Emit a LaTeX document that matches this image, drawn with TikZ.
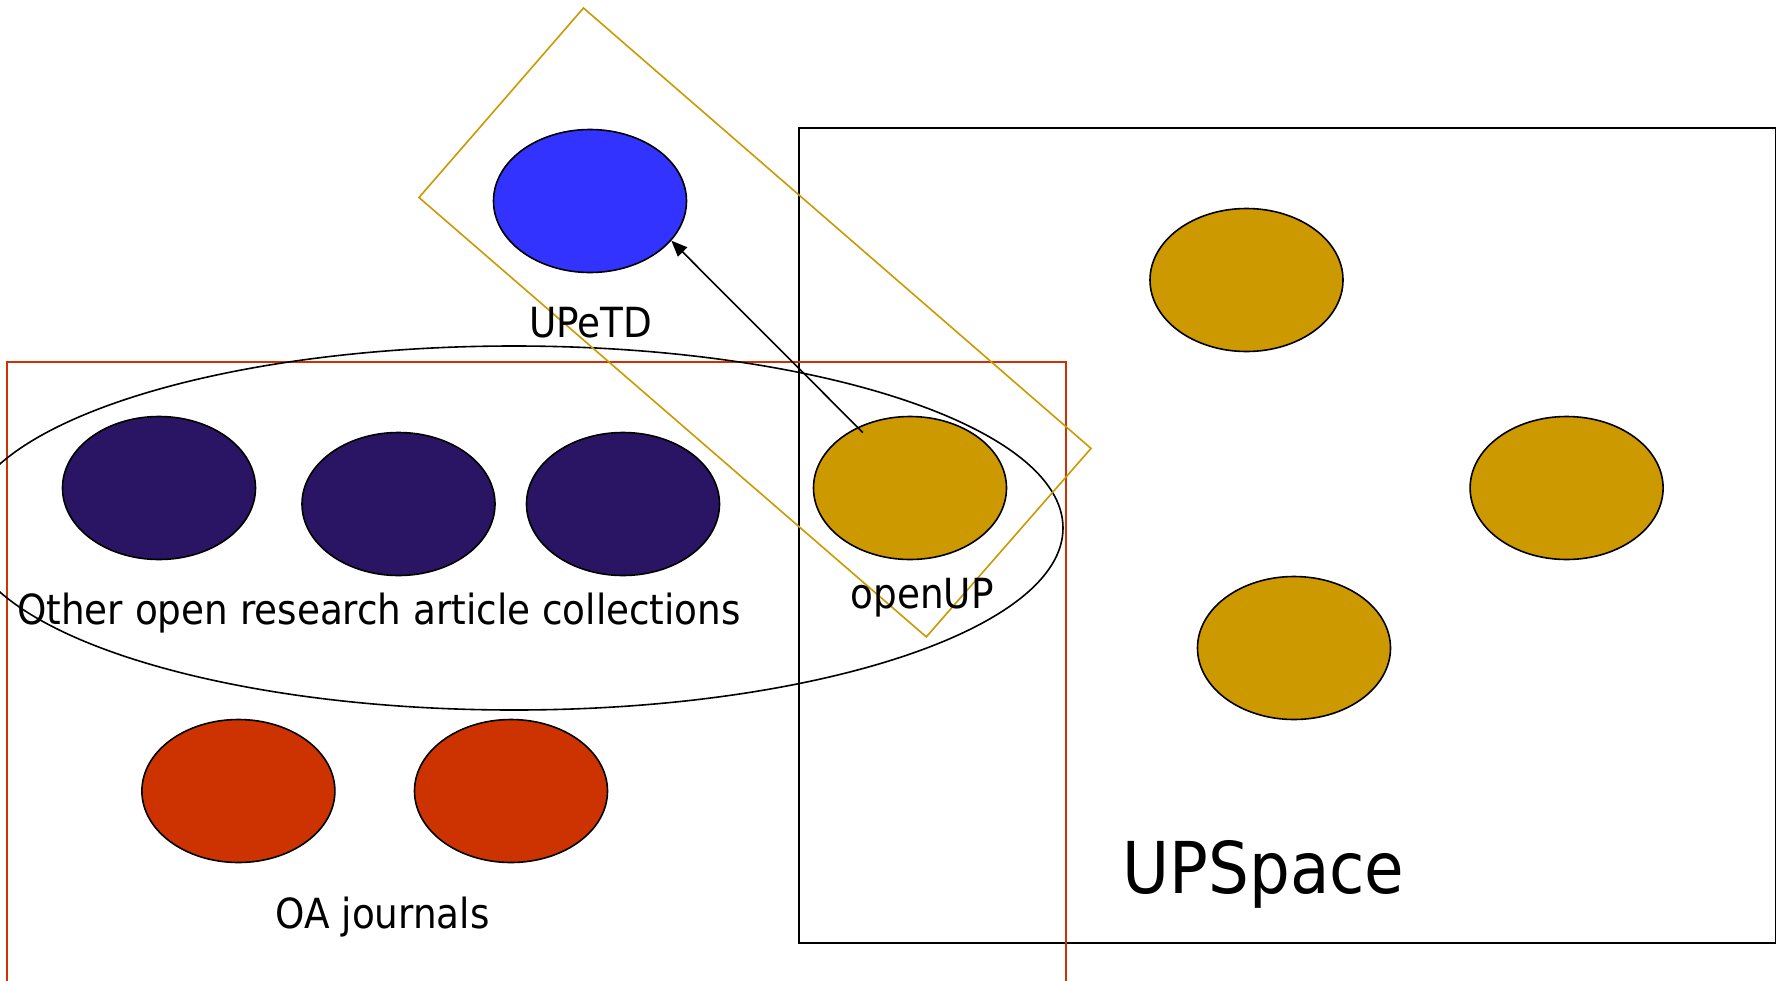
\documentclass[tikz,border=0pt]{standalone}
\usepackage{fontspec}
\setmainfont{DejaVu Sans Condensed}
\usetikzlibrary{shapes.geometric,arrows.meta}
\definecolor{cblue}{HTML}{3333FF}
\definecolor{cpurple}{HTML}{2A1464}
\definecolor{cgold}{HTML}{CC9900}
\definecolor{cred}{HTML}{CC3300}
\begin{document}
\begin{tikzpicture}[x=1pt,y=-1pt,
  blob/.style={ellipse, draw=black, line width=1.6pt, minimum width=193pt, minimum height=143pt, inner sep=0pt},
  lbl/.style={font=\fontsize{41.5}{48}\selectfont, inner sep=0pt, text=black},
  biglbl/.style={font=\fontsize{71.5}{84}\selectfont, inner sep=0pt, text=black},
  frame/.style={line width=1.6pt},
  ]
\useasboundingbox[fill=white] (0,0) rectangle (1780,980);
% containers
\draw[frame, draw=black] (799,128) rectangle (1775.5,943);
\draw[frame, draw=cred] (7,362) rectangle (1066,990);
\draw[frame, draw=black] (514,528) ellipse [x radius=549pt, y radius=182pt];
\draw[frame, draw=cgold, line join=miter] (583.5,8) -- (1091,448.4) -- (926.3,636.9) -- (419,197.5) -- cycle;
% blobs
\node[blob, fill=cblue] (upetd) at (590,201) {};
\node[blob, fill=cpurple] (p1) at (159,488) {};
\node[blob, fill=cpurple] (p2) at (398.5,504) {};
\node[blob, fill=cpurple] (p3) at (623,504) {};
\node[blob, fill=cgold] (openup) at (910,488) {};
\node[blob, fill=cgold] (g1) at (1246.5,280) {};
\node[blob, fill=cgold] (g2) at (1566.6,488) {};
\node[blob, fill=cgold] (g3) at (1294,648) {};
\node[blob, fill=cred] (r1) at (238.4,791) {};
\node[blob, fill=cred] (r2) at (511,791) {};
% labels
\node[lbl] (tupetd) at (591,323) {UPeTD};
\node[lbl] (tother) at (379,613.5) {Other open research article collections};
\node[lbl] (topenup) at (922,597.5) {openUP};
\node[lbl] (toa) at (382.6,917.5) {OA journals};
\node[biglbl] (tupspace) at (1263.5,874) {UPSpace};
% arrow
\coordinate (astart) at (862.8,432.5);
\draw[line width=1.6pt, -{Triangle[length=16pt,width=13pt]}] (astart) -- (upetd.-26);
\end{tikzpicture}
\end{document}
